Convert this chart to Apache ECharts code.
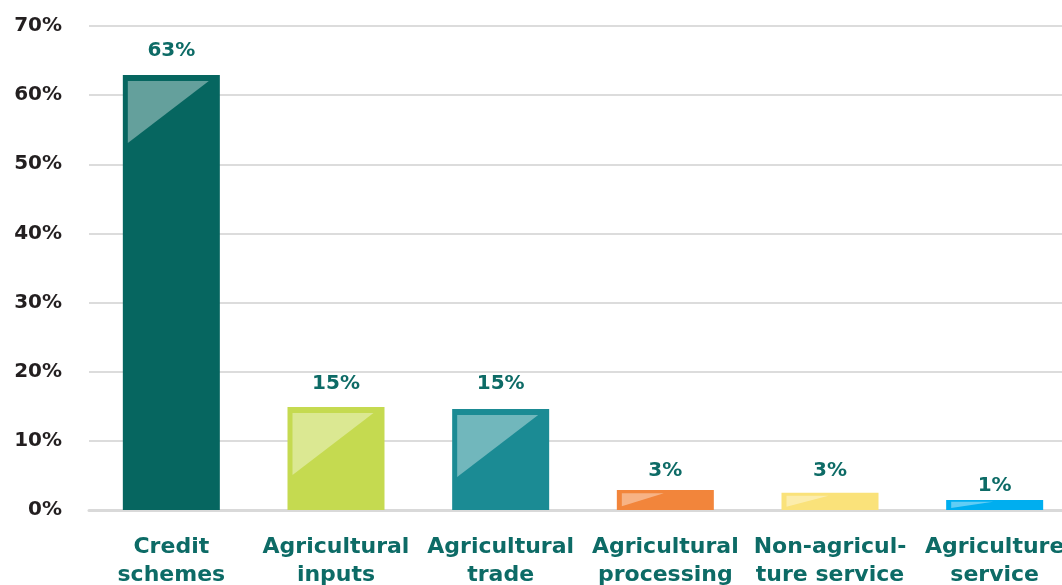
<!DOCTYPE html>
<html>
<head>
<meta charset="utf-8">
<script src="https://cdn.jsdelivr.net/npm/echarts@6/dist/echarts.min.js"></script>
<style>
html,body{margin:0;padding:0;background:#fff;}
#chart{width:1062px;height:585px;}
</style>
</head>
<body>
<div id="chart"></div>
<script>
var categories = ["Credit\nschemes", "Agricultural\ninputs", "Agricultural\ntrade", "Agricultural\nprocessing", "Non-agricul-\nture service", "Agriculture\nservice"];
var values = [62.9, 14.9, 14.6, 2.9, 2.5, 1.45];
var valueLabels = ["63%", "15%", "15%", "3%", "3%", "1%"];
var barColors = ["#066660", "#c5da50", "#1b8b94", "#f2853b", "#fae27a", "#00aeef"];
var yTicks = [0, 10, 20, 30, 40, 50, 60, 70];

// label gap above each bar (style only)
var labelGap = [14, 13, 15, 9, 12, 4];

var FONT = "DejaVu Sans";
var chart = echarts.init(document.getElementById('chart'));

var barData = values.map(function (v, i) {
  return {
    value: v,
    itemStyle: { color: barColors[i] },
    label: { formatter: valueLabels[i], distance: labelGap[i] }
  };
});

var BAR_W = 97;

chart.setOption({
  animation: false,
  grid: { left: 89, width: 988, top: 26, bottom: 75, containLabel: false, outerBoundsMode: 'none' },
  xAxis: {
    type: 'category',
    data: categories,
    axisLine: { show: true, lineStyle: { color: '#d9d9d9', width: 3 } },
    axisTick: { show: false },
    axisLabel: {
      interval: 0,
      color: '#0d6b66',
      fontFamily: FONT,
      fontWeight: 'bold',
      fontSize: 22,
      lineHeight: 28,
      margin: 23
    }
  },
  yAxis: {
    type: 'value',
    min: yTicks[0],
    max: yTicks[yTicks.length - 1],
    interval: 10,
    axisLine: { show: false },
    axisTick: { show: false },
    splitLine: { lineStyle: { color: '#dcdcdc', width: 2 } },
    axisLabel: {
      formatter: '{value}%',
      color: '#231f20',
      fontFamily: FONT,
      fontWeight: 'bold',
      fontSize: 20,
      margin: 27,
      padding: [4, 0, 0, 0]
    }
  },
  series: [
    {
      type: 'bar',
      data: barData,
      barWidth: BAR_W,
      z: 2,
      label: {
        show: true,
        position: 'top',
        color: '#0d6b66',
        fontFamily: FONT,
        fontWeight: 'bold',
        fontSize: 20
      }
    },
    {
      type: 'custom',
      z: 3,
      silent: true,
      data: values.map(function (v, i) { return [i, v]; }),
      renderItem: function (params, api) {
        var top = api.coord([api.value(0), api.value(1)]);
        var base = api.coord([api.value(0), 0]);
        var h = base[1] - top[1];
        var left = top[0] - BAR_W / 2;
        var inset = Math.min(6, h * 0.17);
        var triW = h > 60 ? 81 : 42;
        var triH = Math.min(62, h * 0.64);
        var x0 = left + 5, y0 = top[1] + inset;
        return {
          type: 'polygon',
          shape: { points: [[x0, y0], [x0 + triW, y0], [x0, y0 + triH]] },
          style: { fill: 'rgba(255,255,255,0.38)' }
        };
      }
    }
  ]
});
</script>
</body>
</html>
